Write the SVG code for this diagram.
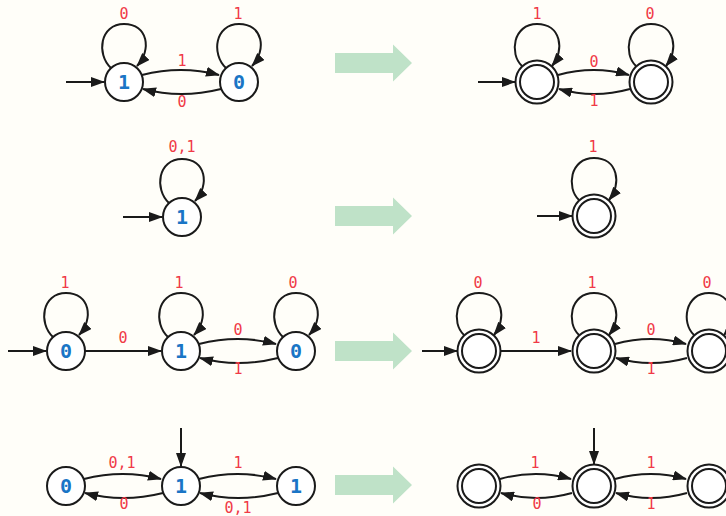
<svg xmlns="http://www.w3.org/2000/svg" width="726" height="516" viewBox="0 0 726 516">
<style>
.bg{fill:#fffef9}
.n{fill:#ffffff;stroke:#1a1a1a;stroke-width:2}
.nl{font-family:"DejaVu Sans Mono","Liberation Mono",monospace;font-size:20px;font-weight:bold;fill:#1a75c6;text-anchor:middle}
.el{font-family:"DejaVu Sans Mono","Liberation Mono",monospace;font-size:15px;fill:#f03a47;text-anchor:middle}
.e{fill:none;stroke:#1a1a1a;stroke-width:2;marker-end:url(#ah)}
.big{fill:#bfe2c8}
</style>
<defs>
<marker id="ah" markerUnits="userSpaceOnUse" markerWidth="14" markerHeight="10" refX="13" refY="5" orient="auto">
<path d="M0,0 L14,5 L0,10 z" fill="#1a1a1a"/>
</marker>
</defs>
<rect class="bg" x="0" y="0" width="726" height="516"/>

<g id="transform-arrows">
<polygon class="big" points="335,53 393,53 393,44.5 412,63 393,81.5 393,73 335,73"/>
<polygon class="big" points="335,206 393,206 393,197.5 412,216 393,234.5 393,226 335,226"/>
<polygon class="big" points="335,341 393,341 393,332.5 412,351 393,369.5 393,361 335,361"/>
<polygon class="big" points="335,475 393,475 393,466.5 412,485 393,503.5 393,495 335,495"/>
</g>

<g id="connectors">
<!-- row 1 left -->
<path class="e" d="M66,82 L104,82"/>
<path class="e" d="M111,68 C96,54 100,24 124,24 C148,24 152,50 137,66"/>
<path class="e" d="M226,68 C211,54 215,24 239,24 C263,24 267,50 252,66"/>
<path class="e" d="M142,75 Q181,65 219,75"/>
<path class="e" d="M221,89 Q181,99 143,89"/>
<!-- row 1 right -->
<path class="e" d="M478,82 L515,82"/>
<path class="e" d="M522,66 C509,54 513,24 537,24 C561,24 565,50 552,66"/>
<path class="e" d="M636,66 C623,54 627,24 651,24 C675,24 679,50 666,66"/>
<path class="e" d="M558,75 Q594,65 629,75"/>
<path class="e" d="M630,89 Q594,99 559,89"/>
<!-- row 2 -->
<path class="e" d="M123,217 L162,217"/>
<path class="e" d="M169,203 C154,189 158,159 182,159 C206,159 210,185 195,201"/>
<path class="e" d="M537,216 L572,216"/>
<path class="e" d="M579,200 C566,188 570,158 594,158 C618,158 622,184 609,200"/>
<!-- row 3 left -->
<path class="e" d="M8,351 L46,351"/>
<path class="e" d="M53,337 C38,323 42,293 66,293 C90,293 94,319 79,335"/>
<path class="e" d="M168,337 C153,323 157,293 181,293 C205,293 209,319 194,335"/>
<path class="e" d="M283,337 C268,323 272,293 296,293 C320,293 324,319 309,335"/>
<path class="e" d="M85,351 L161,351"/>
<path class="e" d="M199,344 Q238,334 276,344"/>
<path class="e" d="M278,358 Q238,368 200,358"/>
<!-- row 3 right -->
<path class="e" d="M422,351 L457,351"/>
<path class="e" d="M464,335 C451,323 455,293 479,293 C503,293 507,319 494,335"/>
<path class="e" d="M579,335 C566,323 570,293 594,293 C618,293 622,319 609,335"/>
<path class="e" d="M694,335 C681,323 685,293 709,293 C733,293 737,319 724,335"/>
<path class="e" d="M500,351 L571,351"/>
<path class="e" d="M615,344 Q651,334 686,344"/>
<path class="e" d="M687,358 Q651,368 616,358"/>
<!-- row 4 left -->
<path class="e" d="M181,428 L181,466"/>
<path class="e" d="M84,479 Q123,469 161,479"/>
<path class="e" d="M163,493 Q123,503 85,493"/>
<path class="e" d="M199,479 Q238,469 276,479"/>
<path class="e" d="M278,493 Q238,503 200,493"/>
<!-- row 4 right -->
<path class="e" d="M594,428 L594,464"/>
<path class="e" d="M500,479 Q536,469 571,479"/>
<path class="e" d="M572,493 Q536,503 501,493"/>
<path class="e" d="M615,479 Q651,469 686,479"/>
<path class="e" d="M687,493 Q651,503 616,493"/>
</g>

<g id="edge-labels">
<text class="el" x="124" y="19">0</text>
<text class="el" x="238" y="19">1</text>
<text class="el" x="182" y="66">1</text>
<text class="el" x="182" y="107">0</text>
<text class="el" x="537" y="19">1</text>
<text class="el" x="650" y="19">0</text>
<text class="el" x="594" y="67">0</text>
<text class="el" x="594" y="106">1</text>
<text class="el" x="182" y="152">0,1</text>
<text class="el" x="593" y="152">1</text>
<text class="el" x="65" y="288">1</text>
<text class="el" x="179" y="288">1</text>
<text class="el" x="293" y="288">0</text>
<text class="el" x="123" y="343">0</text>
<text class="el" x="238" y="335">0</text>
<text class="el" x="238" y="374">1</text>
<text class="el" x="478" y="288">0</text>
<text class="el" x="592" y="288">1</text>
<text class="el" x="707" y="288">0</text>
<text class="el" x="536" y="343">1</text>
<text class="el" x="651" y="335">0</text>
<text class="el" x="651" y="374">1</text>
<text class="el" x="122" y="468">0,1</text>
<text class="el" x="124" y="509">0</text>
<text class="el" x="238" y="468">1</text>
<text class="el" x="238" y="513">0,1</text>
<text class="el" x="535" y="468">1</text>
<text class="el" x="537" y="509">0</text>
<text class="el" x="651" y="468">1</text>
<text class="el" x="651" y="509">1</text>
</g>

<g id="r1-a"><circle class="n" cx="124" cy="82" r="19"/><text class="nl" x="124" y="89">1</text></g>
<g id="r1-b"><circle class="n" cx="239" cy="82" r="19"/><text class="nl" x="239" y="89">0</text></g>
<g id="r1-c"><circle class="n" cx="537" cy="82" r="21.5"/><circle class="n" cx="537" cy="82" r="17"/></g>
<g id="r1-d"><circle class="n" cx="651" cy="82" r="21.5"/><circle class="n" cx="651" cy="82" r="17"/></g>

<g id="r2-a"><circle class="n" cx="182" cy="217" r="19"/><text class="nl" x="182" y="224">1</text></g>
<g id="r2-b"><circle class="n" cx="594" cy="216" r="21.5"/><circle class="n" cx="594" cy="216" r="17"/></g>

<g id="r3-a"><circle class="n" cx="66" cy="351" r="19"/><text class="nl" x="66" y="358">0</text></g>
<g id="r3-b"><circle class="n" cx="181" cy="351" r="19"/><text class="nl" x="181" y="358">1</text></g>
<g id="r3-c"><circle class="n" cx="296" cy="351" r="19"/><text class="nl" x="296" y="358">0</text></g>
<g id="r3-d"><circle class="n" cx="479" cy="351" r="21.5"/><circle class="n" cx="479" cy="351" r="17"/></g>
<g id="r3-e"><circle class="n" cx="594" cy="351" r="21.5"/><circle class="n" cx="594" cy="351" r="17"/></g>
<g id="r3-f"><circle class="n" cx="709" cy="351" r="21.5"/><circle class="n" cx="709" cy="351" r="17"/></g>

<g id="r4-a"><circle class="n" cx="66" cy="486" r="19"/><text class="nl" x="66" y="493">0</text></g>
<g id="r4-b"><circle class="n" cx="181" cy="486" r="19"/><text class="nl" x="181" y="493">1</text></g>
<g id="r4-c"><circle class="n" cx="296" cy="486" r="19"/><text class="nl" x="296" y="493">1</text></g>
<g id="r4-d"><circle class="n" cx="479" cy="486" r="21.5"/><circle class="n" cx="479" cy="486" r="17"/></g>
<g id="r4-e"><circle class="n" cx="594" cy="486" r="21.5"/><circle class="n" cx="594" cy="486" r="17"/></g>
<g id="r4-f"><circle class="n" cx="709" cy="486" r="21.5"/><circle class="n" cx="709" cy="486" r="17"/></g>
</svg>
